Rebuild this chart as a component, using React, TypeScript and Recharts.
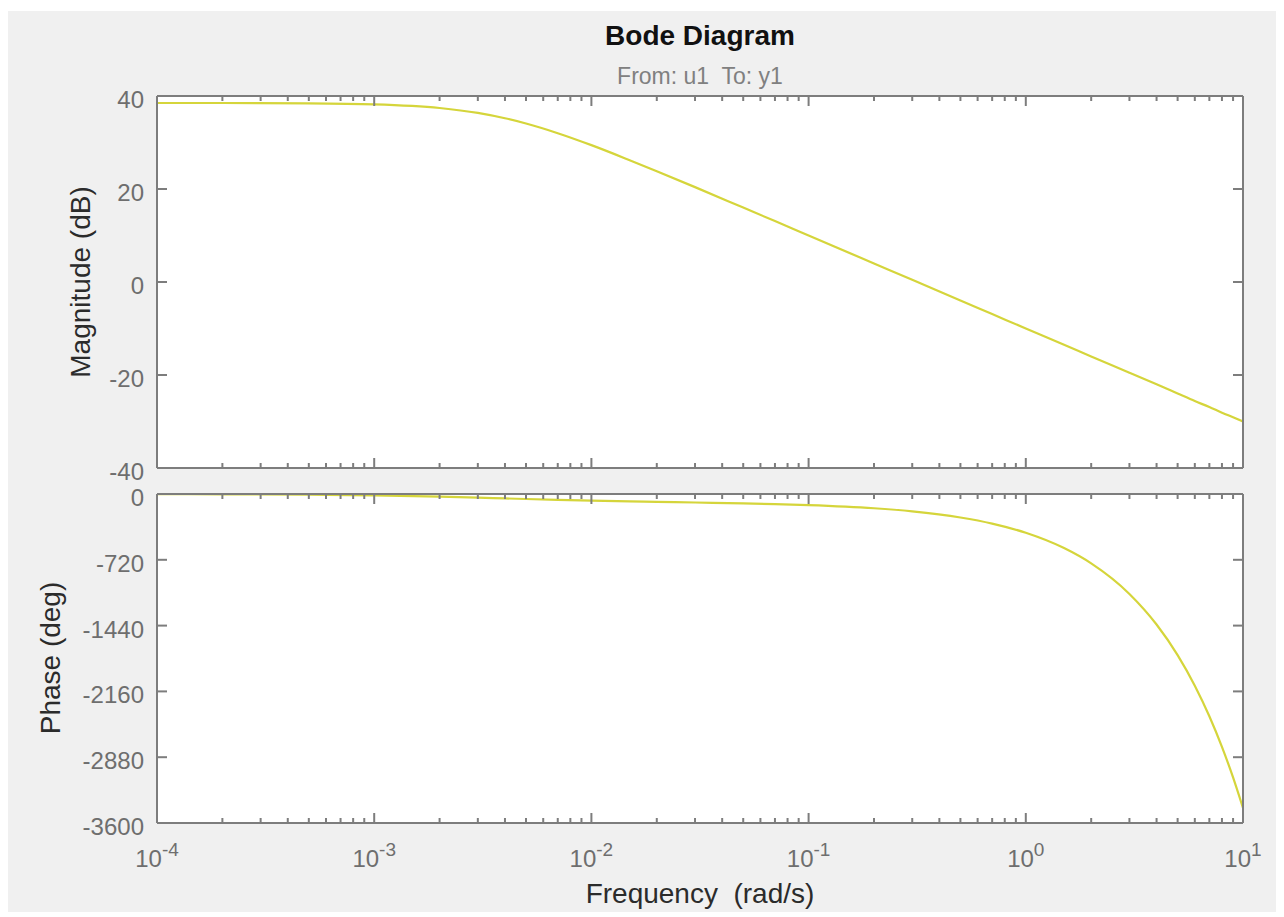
import { LineChart, Line, XAxis, YAxis, CartesianGrid } from "recharts";

// Frequency grid (rad/s) and the response read at each point
const freq = [
  1e-4, 2e-4, 5e-4, 1e-3, 2e-3, 3e-3, 4e-3, 5e-3, 7e-3, 1e-2, 1.5e-2, 2e-2, 3e-2,
  5e-2, 7e-2, 0.1, 0.2, 0.3, 0.5, 0.7, 1, 1.5, 2, 3, 4, 5, 6, 7, 8, 9, 10,
];
const magnitudeDb = [
  38.5, 38.49, 38.42, 38.2, 37.42, 36.36, 35.21, 34.08, 32.0, 29.43, 26.2, 23.83,
  20.4, 16.0, 13.1, 10.0, 3.98, 0.46, -3.98, -6.9, -10.0, -13.5, -16.02, -19.5,
  -22.0, -23.98, -25.6, -26.9, -28.1, -29.1, -30.0,
];
const phaseDeg = [
  -1.6, -3.1, -7.7, -15.2, -28.7, -39.6, -48.1, -54.8, -64.1, -72.7, -80.9, -86.0,
  -92.9, -102.4, -110.3, -121.3, -155.8, -189.7, -256.9, -323.9, -424.4, -591.8,
  -759.1, -1093.7, -1428.3, -1763, -2097.5, -2432.1, -2766.7, -3101.3, -3436,
];

const decades = [1e-4, 1e-3, 1e-2, 1e-1, 1, 10];
const magTicks = [-40, -20, 0, 20, 40];
const phaseTicks = [-3600, -2880, -2160, -1440, -720, 0];

const freqTicks: number[] = [];
decades.forEach((d, i) => {
  freqTicks.push(d);
  if (i < decades.length - 1) for (let k = 2; k <= 9; k++) freqTicks.push(k * d);
});

const rows = freq.map((w, i) => ({ w, mag: magnitudeDb[i], phase: phaseDeg[i] }));

const W = 1271;
const H = 901;
const AXIS = "#7d7d7d";
const TICK_TEXT = "#6e6e6e";
const FONT = "'Liberation Sans', Arial, Helvetica, sans-serif";
const LINE = "#d5d53b";

const isDecade = (v: number) => Math.abs(Math.log10(v) - Math.round(Math.log10(v))) < 1e-9;

// x ticks point into the box; dir = -1 for the bottom edge, +1 for the top edge
const xTick = (dir: number, labels: boolean) => (props: any) => {
  const { x, y, payload } = props;
  const major = isDecade(payload.value);
  const len = major ? 10 : 5;
  const exp = Math.round(Math.log10(payload.value));
  return (
    <g>
      <line x1={x} x2={x} y1={y} y2={y + dir * len} stroke={AXIS} strokeWidth={2} />
      {labels && major && (
        <text x={x} y={y + 44} textAnchor="middle" fill={TICK_TEXT} fontSize={24} fontFamily={FONT}>
          <tspan>10</tspan>
          <tspan dy={-11} fontSize={19}>{String(exp)}</tspan>
        </text>
      )}
    </g>
  );
};

const yTick = (dir: number, labels: boolean) => (props: any) => {
  const { x, y, payload } = props;
  return (
    <g>
      <line x1={x} x2={x + dir * 10} y1={y} y2={y} stroke={AXIS} strokeWidth={2} />
      {labels && (
        <text x={x - 13} y={y + 12} textAnchor="end" fill={TICK_TEXT} fontSize={24} fontFamily={FONT}>
          {payload.value}
        </text>
      )}
    </g>
  );
};

type PanelProps = {
  dataKey: string;
  yTicks: number[];
  yDomain: [number, number];
  top: number;
  bottom: number;
  xLabels: boolean;
};

function Panel({ dataKey, yTicks, yDomain, top, bottom, xLabels }: PanelProps) {
  const axisLine = { stroke: AXIS, strokeWidth: 2 };
  // every axis is 1px thick, so the margins are pulled in by 1
  return (
    <div style={{ position: "absolute", left: 0, top: 0 }}>
      <LineChart
        width={W}
        height={H}
        data={rows}
        margin={{ top: top - 1, right: 34, bottom: H - bottom - 1, left: 149 }}
      >
        <CartesianGrid fill="#ffffff" stroke="none" horizontal={false} vertical={false} />
        <XAxis
          dataKey="w"
          type="number"
          scale="log"
          domain={[1e-4, 10]}
          ticks={freqTicks}
          interval={0}
          height={1}
          tickSize={0}
          tickMargin={0}
          tickLine={false}
          axisLine={axisLine}
          tick={xTick(-1, xLabels)}
          allowDataOverflow
        />
        <XAxis
          xAxisId="top"
          orientation="top"
          dataKey="w"
          type="number"
          scale="log"
          domain={[1e-4, 10]}
          ticks={freqTicks}
          interval={0}
          height={1}
          tickSize={0}
          tickMargin={0}
          tickLine={false}
          axisLine={axisLine}
          tick={xTick(1, false)}
          allowDataOverflow
        />
        <YAxis
          type="number"
          domain={yDomain}
          ticks={yTicks}
          interval={0}
          width={1}
          tickSize={0}
          tickMargin={0}
          tickLine={false}
          axisLine={axisLine}
          tick={yTick(1, true)}
          allowDataOverflow
        />
        <YAxis
          yAxisId="right"
          orientation="right"
          type="number"
          domain={yDomain}
          ticks={yTicks}
          interval={0}
          width={1}
          tickSize={0}
          tickMargin={0}
          tickLine={false}
          axisLine={axisLine}
          tick={yTick(-1, false)}
          allowDataOverflow
        />
        <Line
          type="monotone"
          dataKey={dataKey}
          stroke={LINE}
          strokeWidth={2.2}
          dot={false}
          activeDot={false}
          isAnimationActive={false}
        />
      </LineChart>
    </div>
  );
}

export default function App() {
  return (
    <div
      style={{
        position: "relative",
        width: W,
        height: H,
        marginLeft: -1,
        marginTop: 3,
        background: "#f0f0f0",
      }}
    >
      <Panel dataKey="mag" yTicks={magTicks} yDomain={[-40, 40]} top={85} bottom={457} xLabels={false} />
      <Panel dataKey="phase" yTicks={phaseTicks} yDomain={[-3600, 0]} top={483} bottom={812} xLabels={true} />
      <svg
        width={W}
        height={H}
        style={{ position: "absolute", left: 0, top: 0, pointerEvents: "none" }}
        fontFamily={FONT}
      >
        <text x={693} y={34} textAnchor="middle" fontSize={28} fontWeight="bold" fill="#111">
          Bode Diagram
        </text>
        <text x={693} y={73} textAnchor="middle" fontSize={23} fill="#808080" style={{ whiteSpace: "pre" }}>
          {"From: u1  To: y1"}
        </text>
        <text x={693} y={892} textAnchor="middle" fontSize={28} fill="#2b2b2b" style={{ whiteSpace: "pre" }}>
          {"Frequency  (rad/s)"}
        </text>
        <text x={83} y={271} textAnchor="middle" fontSize={28} fill="#2b2b2b" transform="rotate(-90 83 271)">
          Magnitude (dB)
        </text>
        <text x={53} y={647} textAnchor="middle" fontSize={28} fill="#2b2b2b" transform="rotate(-90 53 647)">
          Phase (deg)
        </text>
      </svg>
    </div>
  );
}
